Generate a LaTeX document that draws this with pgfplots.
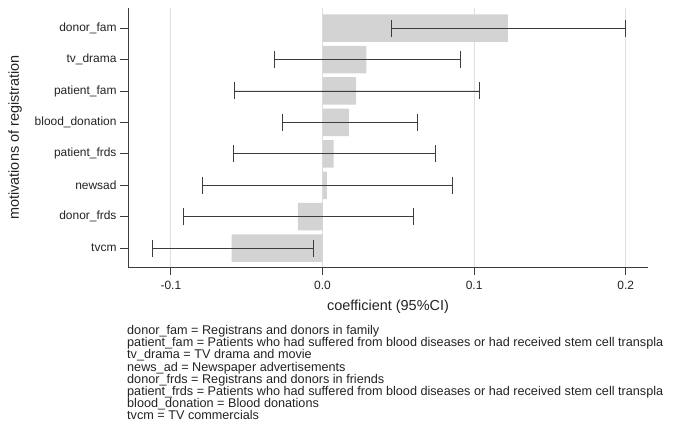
\documentclass[border=0pt]{standalone}
\usepackage{fontspec}
\setmainfont{Liberation Sans}
\usepackage{pgfplots}
\pgfplotsset{compat=1.18}
\definecolor{barfill}{RGB}{211,211,211}
\definecolor{gridc}{RGB}{222,222,222}
\definecolor{txt}{RGB}{35,35,35}
\definecolor{axc}{RGB}{60,60,60}
\begin{document}
\begin{tikzpicture}[x=1bp,y=1bp]
\useasboundingbox (0,0) rectangle (674,428);
\begin{axis}[
  at={(128bp,161bp)}, anchor=south west,
  scale only axis, width=520bp, height=259bp,
  xmin=-0.1283, xmax=0.2147, ymin=-0.6, ymax=7.64,
  axis x line=bottom, axis y line=left,
  axis line style={axc, line width=0.9bp, -},
  tick style={axc, line width=0.9bp},
  major tick length=8bp, tick align=outside,
  xtick pos=bottom, ytick pos=left,
  xtick={-0.1,0,0.1,0.2}, xticklabels={-0.1,0.0,0.1,0.2},
  ytick={0,1,2,3,4,5,6,7},
  yticklabels={tvcm,donor\_frds,newsad,patient\_frds,blood\_donation,patient\_fam,tv\_drama,donor\_fam},
  ticklabel style={font=\fontsize{12}{14}\selectfont, text=txt},
  xticklabel style={yshift=-3bp},
  xmajorgrids, grid style={gridc, line width=0.9bp},
  xlabel={coefficient (95\%CI)}, ylabel={motivations of registration},
  every axis x label/.style={at={(axis description cs:0.5,-0.155)}, anchor=center, font=\fontsize{14.5}{16}\selectfont, text=txt},
  every axis y label/.style={at={(axis description cs:-0.217,0.5)}, rotate=90, anchor=center, font=\fontsize{14.5}{16}\selectfont, text=txt},
  clip=false,
]
\addplot[xbar, bar shift=0pt, bar width=27.5bp, fill=barfill, draw=none,
  error bars/.cd, x dir=both, x explicit,
  error bar style={axc, line width=0.9bp},
  error mark options={axc, line width=0.9bp, mark size=8.5bp, rotate=90}]
coordinates {
  (-0.0600,0) += (0.0539,0) -= (0.0520,0)
  (-0.0163,1) += (0.0766,0) -= (0.0757,0)
  (0.0028,2) += (0.0832,0) -= (0.0820,0)
  (0.0073,3) += (0.0675,0) -= (0.0663,0)
  (0.0174,4) += (0.0453,0) -= (0.0438,0)
  (0.0222,5) += (0.0816,0) -= (0.0801,0)
  (0.0290,6) += (0.0621,0) -= (0.0609,0)
  (0.1223,7) += (0.0777,0) -= (0.0770,0)
};
\end{axis}
\node[anchor=north west, inner sep=0pt, align=left, text=txt, font=\fontsize{12.7}{12.1}\selectfont] at (127,102.5) {%
donor\_fam = Registrans and donors in family\\
patient\_fam = Patients who had suffered from blood diseases or had received stem cell transpla\\
tv\_drama = TV drama and movie\\
news\_ad = Newspaper advertisements\\
donor\_frds = Registrans and donors in friends\\
patient\_frds = Patients who had suffered from blood diseases or had received stem cell transpla\\
blood\_donation = Blood donations\\
tvcm = TV commercials};
\end{tikzpicture}
\end{document}
